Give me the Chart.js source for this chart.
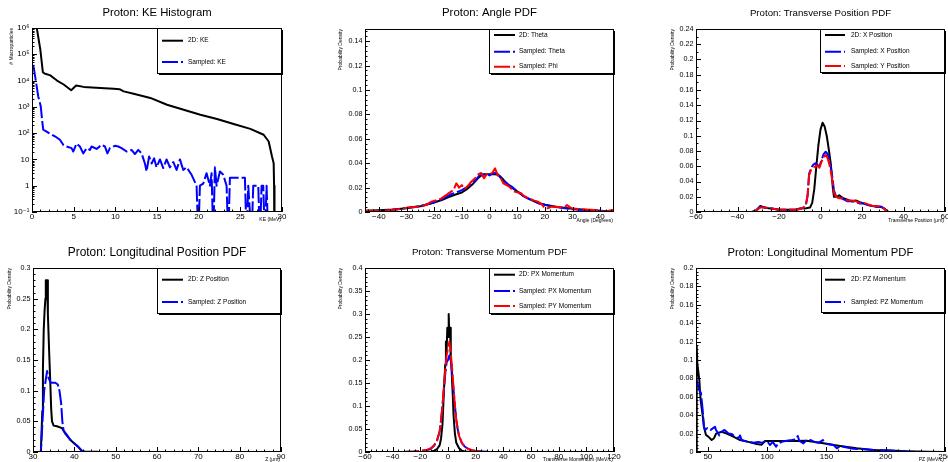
<!DOCTYPE html>
<html>
<head>
<meta charset="utf-8">
<script src="https://cdn.jsdelivr.net/npm/chart.js@4.4.1/dist/chart.umd.min.js"></script>
<style>
	body { margin: 0; background: #fff; }
	#wrap { position: relative; width: 948px; height: 462px; overflow: hidden; }
	canvas { position: absolute; }
</style>
</head>
<body>
<div id="wrap">
	<canvas id="cKE" width="316" height="231" style="left:0;top:0"></canvas>
	<canvas id="cAngle" width="316" height="231" style="left:316px;top:0"></canvas>
	<canvas id="cTrans" width="316" height="231" style="left:632px;top:0"></canvas>
	<canvas id="cLong" width="316" height="231" style="left:0;top:231px"></canvas>
	<canvas id="cPx" width="316" height="231" style="left:316px;top:231px"></canvas>
	<canvas id="cPz" width="316" height="231" style="left:632px;top:231px"></canvas>
</div>
<script>
'use strict'

// KE HISTOGRAM (counts, log axis)
const keTicksX = [0, 5, 10, 15, 20, 25, 30];
const keTicksY = [0.1, 1, 10, 100, 1e3, 1e4, 1e5, 1e6];
const ke2D = [
	[0.2, 2000000], [0.6, 890000], [1.0, 151000], [1.3, 20900], [1.5, 18600], [2.2, 15800], [2.6, 12600],
	[3.0, 10000], [3.8, 7080], [4.7, 4270], [5.3, 6460], [6.2, 5750], [8.2, 5250], [9.8, 4900], [10.5, 4700],
	[11.0, 3890], [12.2, 3160], [14.2, 2190], [16.2, 1200], [18.2, 776], [20.2, 501], [22.2, 347], [24.2, 224],
	[26.2, 145], [27.8, 87], [28.4, 48], [28.8, 13], [29.0, 7.2], [29.05, 1], [29.1, 0.001]
];
const keSampled = [
	[0.15, 39800], [0.5, 8100], [0.75, 2500], [1.05, 1050], [1.25, 245], [1.35, 135], [1.75, 115], [2.15, 95],
	[2.75, 76], [3.35, 56], [3.75, 36], [4.15, 31], [4.75, 27], [4.95, 20], [5.35, 40], [5.75, 31], [6.15, 17],
	[6.55, 27], [6.95, 23], [7.15, 31], [7.75, 25], [8.35, 36], [8.75, 31], [9.05, 17], [9.35, 27], [9.95, 33],
	[10.35, 31], [10.75, 27], [11.35, 20], [11.95, 23], [12.35, 16], [12.75, 23], [13.15, 17], [13.55, 7],
	[13.75, 3.5], [14.05, 13], [14.35, 7], [14.65, 11], [14.95, 5], [15.35, 10], [15.75, 4.7], [16.15, 10],
	[16.55, 5], [16.95, 8], [17.35, 4], [17.75, 10], [18.15, 4], [18.55, 5], [19.15, 2.6], [19.75, 1],
	[19.95, 0.01], [20.15, 1], [20.55, 1.2], [20.95, 3], [21.35, 1], [21.55, 3], [21.75, 0.01], [21.95, 5],
	[22.15, 1], [22.55, 3.5], [22.95, 2.6], [23.35, 1], [23.55, 0.01], [23.75, 2], [24.95, 2], [25.55, 2],
	[25.75, 0.01], [25.95, 1], [26.35, 0.01], [26.55, 1], [27.15, 1], [27.35, 0.01], [27.55, 1], [27.75, 1],
	[27.95, 0.01], [28.15, 1], [28.35, 0.01]
];

// ANGLE PDF
const angTicksX = [-40, -30, -20, -10, 0, 10, 20, 30, 40];
const angTicksY = [0, 0.02, 0.04, 0.06, 0.08, 0.1, 0.12, 0.14];
const angle2D = [
	[-45, 0.001], [-40, 0.0015], [-35, 0.002], [-30, 0.003], [-25, 0.0047], [-20, 0.0078], [-17, 0.010],
	[-15, 0.012], [-12, 0.0145], [-10, 0.016], [-8, 0.019], [-6, 0.023], [-4, 0.028], [-3, 0.030], [-2, 0.031],
	[0, 0.031], [2, 0.031], [3, 0.0305], [4, 0.029], [6, 0.024], [8, 0.020], [10, 0.017], [12, 0.0135],
	[15, 0.010], [18, 0.007], [20, 0.006], [25, 0.004], [30, 0.0027], [35, 0.0017], [40, 0.001], [45, 0.0005]
];
const angTheta = [
	[-45, 0.0008], [-42, 0.0008], [-40, 0.001], [-37, 0.0013], [-34, 0.002], [-31, 0.003], [-28, 0.004],
	[-25, 0.0048], [-22, 0.0065], [-20, 0.008], [-18, 0.0095], [-16, 0.012], [-14, 0.0145], [-12, 0.016],
	[-10, 0.018], [-8, 0.0205], [-6, 0.024], [-5, 0.026], [-4, 0.029], [-3, 0.031], [-2, 0.0305], [-1, 0.031],
	[0, 0.030], [1, 0.0315], [2, 0.032], [3, 0.031], [4, 0.028], [5, 0.0255], [6, 0.024], [7, 0.022], [8, 0.021],
	[10, 0.017], [12, 0.0135], [14, 0.011], [16, 0.0092], [18, 0.0072], [20, 0.006], [22, 0.0048], [24, 0.004],
	[26, 0.0034], [28, 0.0028], [30, 0.0022], [33, 0.0018], [36, 0.0014], [39, 0.0011], [42, 0.0006], [45, 0.0005]
];
const angPhi = [
	[-45, 0.001], [-42.5, 0.001], [-40, 0.0008], [-37.5, 0.0011], [-35, 0.0018], [-33, 0.0022], [-31, 0.003],
	[-29, 0.0038], [-27, 0.004], [-25.5, 0.0044], [-24, 0.005], [-23, 0.0057], [-21, 0.0085], [-19, 0.0098],
	[-17.5, 0.011], [-15, 0.015], [-13, 0.018], [-12, 0.0235], [-11, 0.02], [-10, 0.022], [-9, 0.019], [-8, 0.021],
	[-6.5, 0.025], [-5, 0.028], [-4, 0.031], [-3, 0.032], [-2, 0.0276], [-1, 0.031], [0, 0.0317], [1, 0.032],
	[2, 0.0358], [3, 0.030], [4, 0.028], [5, 0.0235], [7, 0.021], [9, 0.0167], [11.5, 0.0153], [12.5, 0.013],
	[14, 0.0112], [16, 0.0095], [17.5, 0.0085], [19, 0.006], [20, 0.003], [21, 0.003], [22.5, 0.0044], [25, 0.004],
	[27, 0.0035], [28, 0.0057], [29.7, 0.003], [32, 0.0025], [35, 0.002], [38, 0.0016], [40, 0.001],
	[41.7, 0.0003], [43, 0.001], [44.8, 0.0016]
];

// TRANSVERSE POSITION PDF
const posTicksX = [-60, -40, -20, 0, 20, 40, 60];
const posTicksY = [0, 0.02, 0.04, 0.06, 0.08, 0.1, 0.12, 0.14, 0.16, 0.18, 0.2, 0.22, 0.24];
const xPos2D = [
	[-60, 0], [-33, 0], [-31, 0.002], [-29, 0.008], [-27, 0.006], [-25, 0.005], [-22, 0.004], [-20, 0.003],
	[-15, 0.003], [-12, 0.003], [-10, 0.0045], [-7, 0.005], [-5, 0.006], [-4, 0.012], [-3, 0.03], [-2, 0.06],
	[-1, 0.088], [0, 0.108], [1, 0.117], [2, 0.112], [3, 0.1], [4, 0.082], [5, 0.062], [6, 0.03], [6.5, 0.02],
	[8, 0.02], [9, 0.022], [11, 0.018], [13, 0.016], [15, 0.014], [17, 0.015], [19, 0.013], [21, 0.011],
	[23, 0.009], [25, 0.008], [27, 0.007], [29, 0.007], [31, 0.004], [32, 0.001], [33, 0], [60, 0]
];
const xPosSampled = [
	[-60, 0], [-33, 0], [-31, 0.002], [-29, 0.007], [-27, 0.006], [-25, 0.005], [-22, 0.004], [-20, 0.003],
	[-15, 0.003], [-12, 0.003], [-10, 0.004], [-8, 0.006], [-7, 0.01], [-6.2, 0.022], [-5.5, 0.05], [-4.5, 0.058],
	[-3.5, 0.062], [-2.5, 0.064], [-1.5, 0.062], [-0.5, 0.06], [0.5, 0.068], [1.5, 0.076], [2.5, 0.079],
	[3.5, 0.076], [4.5, 0.066], [5.5, 0.05], [6.5, 0.028], [7.5, 0.021], [9, 0.019], [11, 0.017], [13, 0.014],
	[15, 0.014], [17, 0.013], [19, 0.011], [21, 0.011], [23, 0.009], [25, 0.008], [27, 0.007], [29, 0.007],
	[30.5, 0.005], [31.5, 0.002], [32.5, 0], [60, 0]
];
const yPosSampled = [
	[-60, 0], [-33, 0], [-31, 0.002], [-29, 0.006], [-27, 0.006], [-25, 0.005], [-22, 0.004], [-20, 0.003],
	[-15, 0.003], [-12, 0.003], [-10, 0.004], [-8, 0.006], [-7, 0.01], [-6.2, 0.022], [-5.5, 0.048], [-4.5, 0.056],
	[-3.5, 0.058], [-2.5, 0.06], [-1.5, 0.061], [-0.5, 0.058], [0.5, 0.066], [1.5, 0.072], [2.5, 0.075],
	[3.5, 0.07], [4.5, 0.06], [5.5, 0.045], [6.5, 0.025], [7.5, 0.02], [9, 0.018], [11, 0.018], [13, 0.015],
	[15, 0.015], [17, 0.014], [19, 0.012], [21, 0.012], [23, 0.01], [25, 0.008], [27, 0.008], [29, 0.007],
	[30.5, 0.005], [31.5, 0.002], [32.5, 0], [60, 0]
];

// LONGITUDINAL POSITION PDF
const zTicksX = [30, 40, 50, 60, 70, 80, 90];
const zTicksY = [0, 0.05, 0.1, 0.15, 0.2, 0.25, 0.3];
const z2D = [
	[30, 0], [31.9, 0], [32.25, 0.067], [32.4, 0.135], [32.6, 0.2], [32.8, 0.23], [33.0, 0.25], [33.1, 0.28],
	[33.4, 0.28], [33.6, 0.225], [33.9, 0.165], [34.2, 0.11], [34.4, 0.07], [34.6, 0.05], [35.0, 0.043],
	[35.8, 0.042], [37.0, 0.039], [37.8, 0.03], [39.0, 0.02], [39.8, 0.015], [41.0, 0.008], [41.8, 0.002],
	[42.2, 0.001], [45.5, 0.0005], [46, 0], [90, 0]
];
const zSampled = [
	[30, 0], [31.9, 0], [32.3, 0.05], [32.7, 0.1], [33.4, 0.132], [33.8, 0.12], [34.3, 0.113], [35.4, 0.113],
	[36.0, 0.11], [36.4, 0.1], [36.8, 0.08], [37.1, 0.05], [37.4, 0.035], [38.2, 0.028], [39.0, 0.02],
	[39.8, 0.015], [41.0, 0.008], [41.8, 0.002], [42.6, 0], [90, 0]
];

// TRANSVERSE MOMENTUM PDF
const pxTicksX = [-60, -40, -20, 0, 20, 40, 60, 80, 100, 120];
const pxTicksY = [0, 0.05, 0.1, 0.15, 0.2, 0.25, 0.3, 0.35, 0.4];
const px2D = [
	[-60, 0], [-20, 0], [-12, 0.001], [-10, 0.003], [-8, 0.006], [-6, 0.015], [-5, 0.03], [-4, 0.06],
	[-3, 0.13], [-2.5, 0.16], [-2, 0.19], [-1.5, 0.24], [-1, 0.22], [-0.5, 0.27], [0, 0.25], [0.5, 0.30],
	[1, 0.25], [1.5, 0.27], [2, 0.2], [2.5, 0.19], [3, 0.15], [3.5, 0.12], [4, 0.08], [5, 0.04], [6, 0.02],
	[8, 0.008], [10, 0.003], [12, 0.001], [15, 0], [120, 0]
];
const pxSampled = [
	[-60, 0], [-35, 0], [-25, 0.001], [-20, 0.002], [-15, 0.004], [-12, 0.008], [-10, 0.014], [-8, 0.024],
	[-6, 0.045], [-5, 0.07], [-4, 0.1], [-3, 0.135], [-2, 0.17], [-1, 0.195], [0, 0.2], [1, 0.21], [2, 0.2],
	[3, 0.17], [4, 0.135], [5, 0.1], [6, 0.07], [7, 0.05], [8, 0.035], [10, 0.02], [12, 0.012], [15, 0.006],
	[20, 0.002], [25, 0.001], [30, 0], [120, 0]
];
const pySampled = [
	[-60, 0], [-35, 0], [-25, 0.001], [-20, 0.002], [-15, 0.005], [-12, 0.009], [-10, 0.015], [-8, 0.025],
	[-6, 0.045], [-5, 0.07], [-4, 0.1], [-3, 0.14], [-2, 0.18], [-1, 0.21], [0, 0.225], [1, 0.24], [2, 0.215],
	[3, 0.18], [4, 0.14], [5, 0.1], [6, 0.07], [7, 0.05], [8, 0.035], [10, 0.02], [12, 0.012], [15, 0.006],
	[20, 0.002], [25, 0.001], [30, 0], [120, 0]
];

// LONGITUDINAL MOMENTUM PDF
const pzTicksX = [50, 100, 150, 200, 250];
const pzTicksY = [0, 0.02, 0.04, 0.06, 0.08, 0.1, 0.12, 0.14, 0.16, 0.18, 0.2];
const pz2D = [
	[40, 0], [40.6, 0.115], [41.1, 0.096], [42.8, 0.078], [43.9, 0.0565], [45.6, 0.040], [46.7, 0.0275],
	[48.4, 0.0185], [50.4, 0.0167], [53.2, 0.013], [55.2, 0.015], [56.9, 0.020], [61.7, 0.022], [65.9, 0.020],
	[71.5, 0.0167], [77.1, 0.013], [84.1, 0.011], [91.2, 0.0087], [95.4, 0.008], [98.2, 0.012], [108, 0.012],
	[119.3, 0.012], [133.4, 0.0123], [147.4, 0.0094], [161.5, 0.0065], [175.5, 0.004], [189.6, 0.0022],
	[203.6, 0.0015], [217.7, 0.0007], [231.7, 0.0004], [250, 0]
];
const pzSampled = [
	[40.6, 0.078], [42.8, 0.067], [44.2, 0.064], [45.6, 0.046], [46.7, 0.0275], [47.6, 0.024], [49.6, 0.026],
	[52.4, 0.024], [56, 0.0275], [56.9, 0.024], [59.7, 0.018], [61.7, 0.022], [64, 0.024], [67.4, 0.020],
	[70.2, 0.0195], [73, 0.0167], [75.8, 0.015], [77.1, 0.018], [78.5, 0.013], [81.3, 0.012], [85, 0.011],
	[88.4, 0.010], [92.6, 0.011], [95.4, 0.010], [99.6, 0.0123], [102.4, 0.0076], [104.7, 0.011], [107.5, 0.0058],
	[109.5, 0.0094], [112.3, 0.011], [116.5, 0.0123], [120.8, 0.013], [124.4, 0.0138], [125.8, 0.0174],
	[127.2, 0.012], [130.6, 0.0094], [133.4, 0.013], [136.8, 0.013], [139.6, 0.011], [143.3, 0.010], [147, 0.013],
	[150.3, 0.0087], [156, 0.0076], [158.8, 0.004], [161.6, 0.0065], [167.2, 0.005], [172.8, 0.0036],
	[181.3, 0.003], [192.5, 0.002], [203.6, 0.0015], [215, 0.0007], [226, 0.0003], [250, 0]
];

const FONT = '"Liberation Sans", Arial, "DejaVu Sans", sans-serif';
Chart.defaults.font.family = FONT;
Chart.defaults.color = '#000';

const black = '#000000';
const blue = '#0000ff';
const red = '#ff0000';

const supers = {'-': '\u207b', '0': '\u2070', '1': '\u00b9', '2': '\u00b2', '3': '\u00b3', '4': '\u2074', '5': '\u2075', '6': '\u2076', '7': '\u2077', '8': '\u2078', '9': '\u2079'};

function fmt(v) {
	return String(+Number(v).toFixed(4)).replace('-', '\u2212');
}

function fmtLog(v) {
	const e = Math.round(Math.log10(v));
	if (e === 0) return '1';
	if (e === 1) return '10';
	return '10' + String(e).split('').map(c => supers[c]).join('');
}

function minorValues(min, max, step, majors) {
	const out = [];
	for (let i = Math.ceil(min / step - 1e-6); i * step <= max + 1e-9; i++) {
		const v = i * step;
		if (!majors.some(m => Math.abs(m - v) < step * 1e-3)) out.push(v);
	}
	return out;
}

// ROOT-like frame: inward ticks, title, axis titles and boxed legend
const rootFrame = {
	id: 'rootFrame',
	afterDraw(chart, args, o) {
		const ctx = chart.ctx;
		const { left, right, top, bottom } = chart.chartArea;
		const xs = chart.scales.x, ys = chart.scales.y;
		ctx.save();
		ctx.setLineDash([]);
		ctx.fillStyle = '#000';
		// frame as solid 1px bars so every edge shows
		ctx.fillRect(left, top, right - left, 1);
		ctx.fillRect(left, bottom - 1, right - left, 1);
		ctx.fillRect(left, top, 1, bottom - top);
		ctx.fillRect(right - 1, top, 1, bottom - top);

		ctx.strokeStyle = '#000';
		ctx.lineWidth = 1;
		ctx.beginPath();
		const tickX = (v, len) => {
			const p = Math.round(xs.getPixelForValue(v)) + 0.5;
			ctx.moveTo(p, bottom); ctx.lineTo(p, bottom - len);
		};
		const tickY = (v, len) => {
			const p = Math.round(ys.getPixelForValue(v)) + 0.5;
			ctx.moveTo(left, p); ctx.lineTo(left + len, p);
		};
		const xMaj = xs.ticks.map(t => t.value);
		xMaj.forEach(v => tickX(v, 5));
		minorValues(xs.min, xs.max, o.xMinor, xMaj).forEach(v => tickX(v, 2.5));
		const yMaj = ys.ticks.map(t => t.value);
		yMaj.forEach(v => tickY(v, 5));
		if (o.yMinor === 'log') {
			for (let d = Math.round(Math.log10(ys.min)); d < Math.round(Math.log10(ys.max)); d++) {
				for (let k = 2; k < 10; k++) tickY(k * Math.pow(10, d), 2.5);
			}
		} else {
			minorValues(ys.min, ys.max, o.yMinor, yMaj).forEach(v => tickY(v, 2.5));
		}
		ctx.stroke();

		ctx.textAlign = 'center';
		ctx.textBaseline = 'middle';
		ctx.font = o.titleSize + 'px ' + FONT;
		ctx.fillText(o.title, (left + right) / 2, o.titleY);

		ctx.font = '5px ' + FONT;
		ctx.textAlign = 'right';
		ctx.fillText(o.xTitle, right - 1, o.xTitleY);
		ctx.save();
		ctx.translate(o.yTitleX, top);
		ctx.rotate(-Math.PI / 2);
		ctx.fillText(o.yTitle, 0, 0);
		ctx.restore();

		const lg = o.legend;
		ctx.fillStyle = '#fff';
		ctx.fillRect(lg.x, lg.y, lg.w, lg.h);
		ctx.fillStyle = '#000';
		ctx.fillRect(lg.x, lg.y, lg.w, 1);
		ctx.fillRect(lg.x, lg.y, 1, lg.h);
		ctx.fillRect(lg.x, lg.y + lg.h - 1, lg.w, 1);
		ctx.fillRect(lg.x + lg.w - 1, lg.y, 1, lg.h);
		ctx.fillRect(lg.x + 2, lg.y + lg.h, lg.w - 1, 1);
		ctx.fillRect(lg.x + lg.w, lg.y + 2, 1, lg.h - 1);

		chart.data.datasets.forEach((ds, i) => {
			const y = lg.rows[i];
			ctx.strokeStyle = ds.borderColor;
			ctx.lineWidth = ds.borderWidth;
			ctx.setLineDash(ds.borderDash || []);
			ctx.beginPath();
			ctx.moveTo(lg.l1, y);
			ctx.lineTo(lg.l2, y);
			ctx.stroke();
			ctx.setLineDash([]);
			ctx.fillStyle = '#000';
			ctx.textAlign = 'left';
			ctx.font = '6.5px ' + FONT;
			ctx.fillText(ds.label, lg.tx, y);
		});
		ctx.restore();
	},
};

const panels = [
	{
		id: 'cKE', area: { l: 32, r: 282, t: 28, b: 212 },
		title: 'Proton: KE Histogram', titleSize: 11.3, titleY: 13,
		xTitle: 'KE (MeV)', xTitleY: 220, yTitle: '# Macroparticles', yTitleX: 11.7,
		xMin: 0, xMax: 30, xTicks: keTicksX, xMinor: 1,
		yLog: true, yMin: 0.1, yMax: 1e6, yTicks: keTicksY, yMinor: 'log',
		legend: { x: 157, y: 28, w: 125, h: 46, rows: [40.7, 62], l1: 162, l2: 183, tx: 188 },
		series: [['2D: KE', ke2D, black, false], ['Sampled: KE', keSampled, blue, true]],
	},
	{
		id: 'cAngle', area: { l: 49, r: 298, t: 29, b: 212 },
		title: 'Proton: Angle PDF', titleSize: 11.4, titleY: 13,
		xTitle: 'Angle (Degrees)', xTitleY: 220.5, yTitle: 'Probability Density', yTitleX: 25,
		xMin: -45, xMax: 45, xTicks: angTicksX, xMinor: 2,
		yMin: 0, yMax: 0.15, yTicks: angTicksY, yMinor: 0.004,
		legend: { x: 173, y: 29, w: 125, h: 45, rows: [35, 51.7, 66.7], l1: 178, l2: 199, tx: 203 },
		series: [['2D: Theta', angle2D, black, false], ['Sampled: Theta', angTheta, blue, true], ['Sampled: Phi', angPhi, red, true]],
	},
	{
		id: 'cTrans', area: { l: 64, r: 313, t: 29, b: 212 },
		title: 'Proton: Transverse Position PDF', titleSize: 9.7, titleY: 13.3,
		xTitle: 'Transverse Position (\u03bcm)', xTitleY: 220.5, yTitle: 'Probability Density', yTitleX: 40.5,
		xMin: -60, xMax: 60, xTicks: posTicksX, xMinor: 4,
		yMin: 0, yMax: 0.24, yTicks: posTicksY, yMinor: 0.01,
		legend: { x: 188, y: 29, w: 125, h: 44, rows: [35, 51.7, 66], l1: 193, l2: 213, tx: 219 },
		series: [['2D: X Position', xPos2D, black, false], ['Sampled: X Position', xPosSampled, blue, true], ['Sampled: Y Position', yPosSampled, red, true]],
	},
	{
		id: 'cLong', area: { l: 33, r: 281, t: 37, b: 221 },
		title: 'Proton: Longitudinal Position PDF', titleSize: 11.9, titleY: 21.7,
		xTitle: 'Z (\u03bcm)', xTitleY: 229, yTitle: 'Probability Density', yTitleX: 10,
		xMin: 30, xMax: 90, xTicks: zTicksX, xMinor: 2,
		yMin: 0, yMax: 0.3, yTicks: zTicksY, yMinor: 0.01,
		legend: { x: 157, y: 37, w: 124, h: 46, rows: [48.7, 71], l1: 162, l2: 183, tx: 188 },
		series: [['2D: Z Position', z2D, black, false], ['Sampled: Z Position', zSampled, blue, true]],
	},
	{
		id: 'cPx', area: { l: 49, r: 298, t: 37, b: 221 },
		title: 'Proton: Transverse Momentum PDF', titleSize: 9.7, titleY: 21.7,
		xTitle: 'Transverse Momentum (MeV/c)', xTitleY: 229, yTitle: 'Probability Density', yTitleX: 25,
		xMin: -60, xMax: 120, xTicks: pxTicksX, xMinor: 4,
		yMin: 0, yMax: 0.4, yTicks: pxTicksY, yMinor: 0.01,
		legend: { x: 173, y: 37, w: 125, h: 46, rows: [43.7, 60, 75], l1: 178, l2: 199, tx: 203 },
		series: [['2D: PX Momentum', px2D, black, false], ['Sampled: PX Momentum', pxSampled, blue, true], ['Sampled: PY Momentum', pySampled, red, true]],
	},
	{
		id: 'cPz', area: { l: 64, r: 313, t: 37, b: 221 },
		title: 'Proton: Longitudinal Momentum PDF', titleSize: 11.3, titleY: 21.7,
		xTitle: 'PZ (MeV/c)', xTitleY: 229, yTitle: 'Probability Density', yTitleX: 41,
		xMin: 40, xMax: 250, xTicks: pzTicksX, xMinor: 10,
		yMin: 0, yMax: 0.2, yTicks: pzTicksY, yMinor: 0.004,
		legend: { x: 189, y: 37, w: 124, h: 45, rows: [48.7, 71], l1: 193, l2: 213, tx: 219 },
		series: [['2D: PZ Momentum', pz2D, black, false], ['Sampled: PZ Momentum', pzSampled, blue, true]],
	},
];

const charts = panels.map(p => {
	const datasets = p.series.map((s, i) => ({
		label: s[0],
		data: s[1].map(pt => ({ x: pt[0], y: pt[1] })),
		borderColor: s[2],
		borderWidth: 2,
		borderDash: s[3] ? [16, 3] : [],
		borderJoinStyle: 'round',
		pointRadius: 0,
		tension: 0,
		fill: false,
		order: p.series.length - i,
	}));
	return new Chart(document.getElementById(p.id), {
		type: 'line',
		data: { datasets },
		options: {
			responsive: false,
			animation: false,
			devicePixelRatio: 1,
			events: [],
			layout: { padding: { left: 0, top: p.area.t, right: 316 - p.area.r, bottom: 0 } },
			plugins: {
				legend: { display: false },
				tooltip: { enabled: false },
				rootFrame: p,
			},
			scales: {
				x: {
					type: 'linear',
					min: p.xMin,
					max: p.xMax,
					afterBuildTicks: s => { s.ticks = p.xTicks.map(v => ({ value: v })); },
					afterFit: s => { s.height = 231 - p.area.b; s.paddingLeft = 0; s.paddingRight = 0; },
					grid: { display: false, drawTicks: false },
					border: { display: false },
					ticks: { autoSkip: false, maxRotation: 0, padding: 0, font: { size: 8 }, color: '#000', callback: v => fmt(v) },
				},
				y: {
					type: p.yLog ? 'logarithmic' : 'linear',
					min: p.yMin,
					max: p.yMax,
					afterBuildTicks: s => { s.ticks = p.yTicks.map(v => ({ value: v })); },
					afterFit: s => { s.width = p.area.l; s.paddingTop = 0; s.paddingBottom = 0; },
					grid: { display: false, drawTicks: false },
					border: { display: false },
					ticks: { autoSkip: false, padding: 2.5, font: { size: p.yLog ? 8 : 7.2 }, color: '#000', callback: v => p.yLog ? fmtLog(v) : fmt(v) },
				},
			},
		},
		plugins: [rootFrame],
	});
});
</script>
</body>
</html>
